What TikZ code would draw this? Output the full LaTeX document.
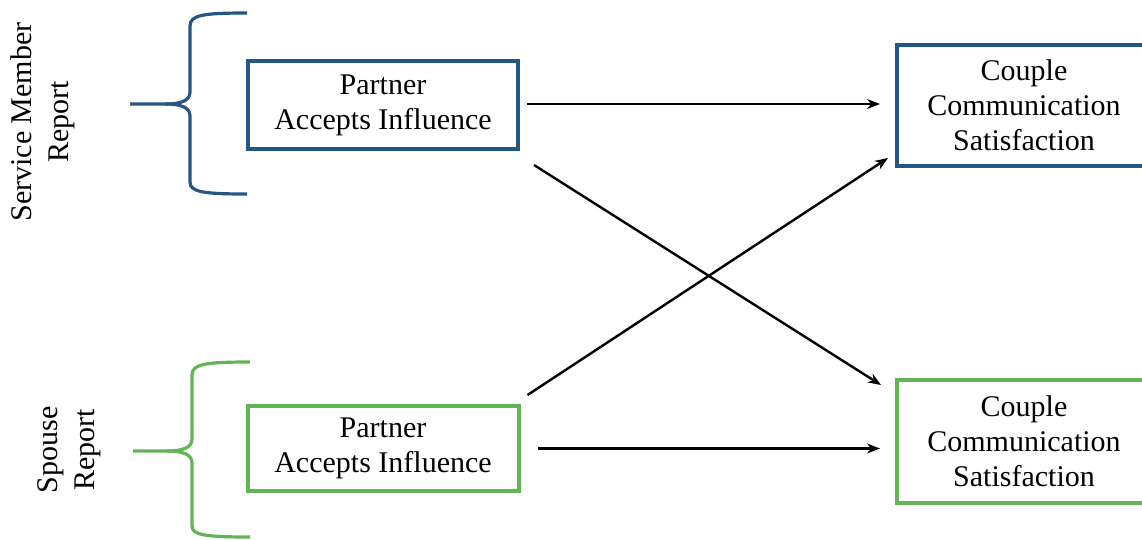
\documentclass[tikz,border=0pt]{standalone}
\usepackage{fontspec}
\setmainfont{Liberation Serif}
\usetikzlibrary{positioning}
\usetikzlibrary{arrows.meta}
\definecolor{smblue}{RGB}{40,86,130}
\definecolor{spgreen}{RGB}{98,180,86}
\tikzset{
    boxb/.style = {rectangle, line width=4pt, draw=smblue, align=center, inner sep=0pt, font=\fontsize{30}{35}\selectfont, text=black},
    boxg/.style = {rectangle, line width=4pt, draw=spgreen, align=center, inner sep=0pt, font=\fontsize{30}{35}\selectfont, text=black},
    grouplab/.style = {rotate=90, align=center, inner sep=0pt, font=\fontsize{30}{37}\selectfont, text=black},
    braceb/.style = {line width=3.2pt, smblue, line join=round},
    braceg/.style = {line width=3.2pt, spgreen, line join=round},
    edgea/.style = {-{Stealth[length=13pt,width=10pt]}, line width=2.4pt, black}
}

\begin{document}
\begin{tikzpicture}[x=1pt,y=-1pt]
\path[use as bounding box, clip] (0,0) rectangle (1142,539);

% group labels
\node[grouplab] at (43,122) (smlab) {Service Member\\Report};
\node[grouplab] at (69,450) (splab) {Spouse\\Report};

% braces
\draw[braceb] (247,13) .. controls (203,13) and (190,15) .. (190,26) -- (190,92) .. controls (190,101) and (180,104) .. (166,104) -- (130,104);
\draw[braceb] (166,104) .. controls (180,104) and (190,107) .. (190,116) -- (190,182) .. controls (190,192) and (203,194) .. (247,194);
\draw[braceg] (250,362) .. controls (205,362) and (192,364) .. (192,375) -- (192,439) .. controls (192,448) and (182,451) .. (167,451) -- (133,451);
\draw[braceg] (167,451) .. controls (182,451) and (192,454) .. (192,463) -- (192,526) .. controls (192,535) and (205,537) .. (250,537);

% boxes
\node[boxb, minimum width=270, minimum height=88] at (383,105) (pa1) {Partner\\Accepts Influence};
\node[boxg, minimum width=271, minimum height=85] at (383,448.5) (pa2) {Partner\\Accepts Influence};
\node[boxb, minimum width=254, minimum height=121] at (1024,105.5) (cc1) {Couple\\Communication\\Satisfaction};
\node[boxg, minimum width=254, minimum height=123] at (1024,441.5) (cc2) {Couple\\Communication\\Satisfaction};

% paths
\draw[edgea, shorten <=7pt, shorten >=15pt] ([yshift=1pt]pa1.east) -- ([yshift=1pt]pa1.east -| cc1.west);
\draw[edgea, shorten <=17pt, shorten >=15pt] (pa2.east) -- (pa2.east -| cc2.west);
\draw[edgea] ([xshift=14pt,yshift=-14pt]pa1.south east) -- ([xshift=-14pt,yshift=-7pt]cc2.north west);
\draw[edgea] ([xshift=7pt,yshift=9pt]pa2.north east) -- ([xshift=-7pt,yshift=10pt]cc1.south west);

\end{tikzpicture}
\end{document}
